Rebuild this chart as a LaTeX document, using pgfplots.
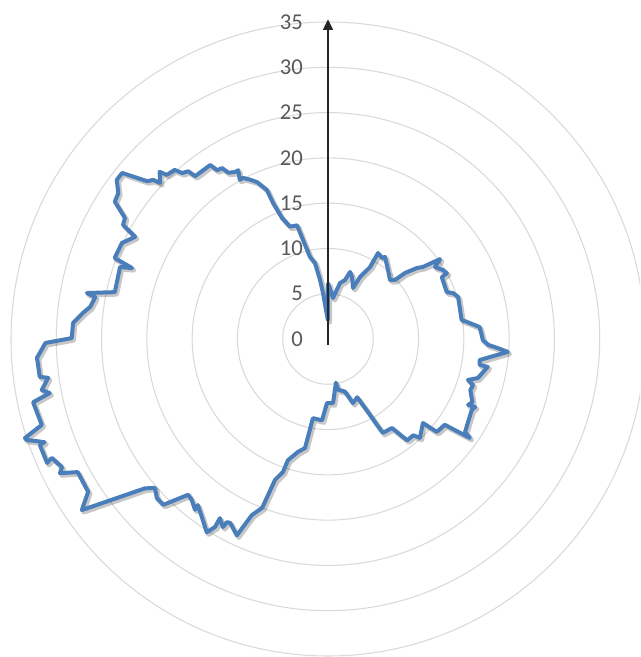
\documentclass[border=0pt]{standalone}
\usepackage{pgfplots}
\pgfplotsset{compat=1.18}
\usepackage{pgfplotstable}
\usepackage{fontspec}
\setmainfont{Carlito}
\usetikzlibrary{arrows.meta}
\definecolor{series}{RGB}{74,126,187}
\definecolor{gridc}{RGB}{217,217,217}
\definecolor{labc}{RGB}{89,89,89}

% compass angle t (degrees clockwise from top), value r
\pgfplotstableread{
t r
0 6.2
6.95 4.56
12.1 6.32
16.1 6.78
18.2 7.79
21.2 7.34
26.1 6.27
27.3 7.70
30.3 9.2
30.2 10.98
33.7 10.75
34.8 11.03
41.0 10.1
46.4 9.45
48.6 9.86
49.4 11.2
51.4 12.57
52.8 13.16
54.5 15.2
56.1 14.24
59.0 14.8
61.0 15.0
61.5 14.3
68.5 14.1
69.8 14.7
72.1 15.1
81.9 14.9
83.0 15.46
85.5 16.8
90.4 17.1
92.1 17.7
93.0 18.7
94.1 19.9
97.9 16.9
99.7 17.0
99.9 17.9
104.6 17.1
106.3 16.1
107.6 16.8
109.8 16.7
113.6 17.4
115.2 17.1
114.8 17.9
116.2 17.7
121.0 18.0
124.2 18.3
124.9 19.1
126.3 16.0
130.5 15.8
131.5 14.0
137.1 14.9
138.5 14.2
142.0 14.2
144.3 12.1
149.7 12.0
150.3 10.9
151.3 9.2
153.4 7.2
158.7 7.6
162.2 6.1
168.9 5.7
169.7 4.9
175.5 7.1
180.9 7.07
184.2 9.0
190.8 8.9
191.9 12.3
194.9 12.9
198.3 14.1
198.7 15.5
200.6 16.6
201.3 20.0
203.4 21.2
204.9 23.9
208.0 23.0
208.9 23.1
209.2 23.8
211.1 23.1
211.0 24.2
212.1 25.2
215.3 24.1
218.1 23.3
217.9 23.9
220.2 23.3
221.9 23.1
224.8 25.8
227.1 25.8
229.3 25.2
230.8 26.1
235.2 33.1
237.5 31.4
242.0 31.3
243.4 33.1
244.3 32.6
246.7 33.2
246.2 33.9
249.8 33.9
250.0 33.3
251.5 35.1
251.9 35.2
253.3 33.0
257.9 33.3
259.0 31.3
259.9 32.1
262.1 31.2
262.5 32.1
266.3 32.2
269.2 31.2
270.2 28.3
273.6 28.2
276.1 27.2
277.7 26.5
280.2 26.1
280.8 27.1
282.4 24.1
289.1 24.3
289.9 23.0
290.8 25.2
295.0 25.1
297.9 24.1
299.1 25.9
300.8 26.1
302.8 28.0
304.8 28.2
307.0 29.2
308.9 29.2
311.1 26.5
312.3 26.1
312.9 25.3
314.8 26.2
315.5 25.4
317.8 25.2
318.7 24.4
320.2 24.1
320.8 23.2
325.9 23.2
326.7 22.3
328.2 22.2
329.1 21.4
330.9 21.1
332.0 21.1
331.0 20.1
332.2 20.1
333.9 19.6
335.7 19.0
336.8 18.3
337.7 17.8
338.0 16.2
339.2 14.3
341.3 13.1
344.8 13.0
345.8 11.3
347.6 9.3
350.3 8.5
352.3 6.6
353.8 5.1
359.5 2.1
360 6.2
}\radar

\begin{document}
\begin{tikzpicture}
\begin{axis}[
  scale only axis,
  width=480pt, height=492.75pt,
  xmin=-36.215, xmax=34.449,
  ymin=-35.11, ymax=37.43,
  axis lines=none,
  clip=true,
]
\pgfplotsinvokeforeach{5,10,15,20,25,30,35}{
  \draw[gridc, line width=0.8pt] (axis cs:0,0) circle[radius=#1];
}
\addplot[draw=black, opacity=0.22, line width=3.6pt, line join=round,
  data cs=polar, xshift=1.4pt, yshift=-1.6pt, forget plot]
  table[x expr=90-\thisrow{t}, y=r] {\radar};
\addplot[draw=series, line width=3pt, line join=round, data cs=polar]
  table[x expr=90-\thisrow{t}, y=r] {\radar};
\draw[black!85, line width=1.1pt, -{Triangle[length=8pt,width=7.5pt]}]
  (axis cs:0,-0.65) -- (axis cs:0,35.3);
\pgfplotsinvokeforeach{0,5,10,15,20,25,30,35}{
  \node[anchor=east, inner sep=0pt, text=labc, font=\fontsize{17}{19}\selectfont]
    at (axis cs:-2.76,#1) {#1};
}
\end{axis}
\pgfresetboundingbox
\useasboundingbox (current axis.south west) rectangle (current axis.north east);
\end{tikzpicture}
\end{document}
